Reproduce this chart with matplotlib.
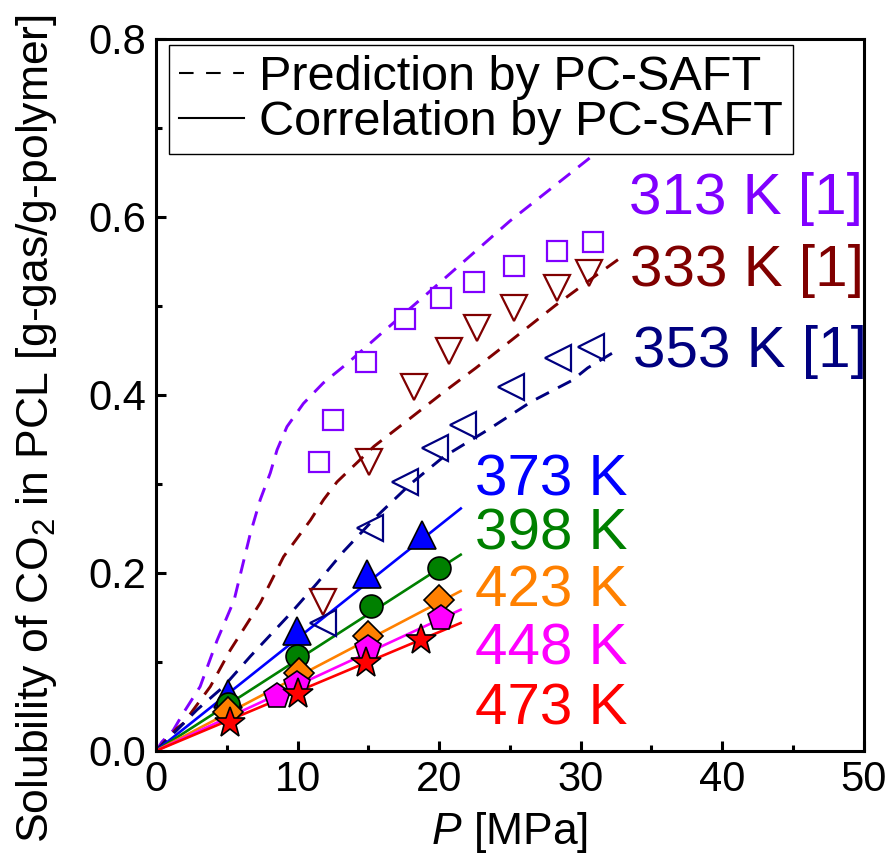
import numpy as np
import matplotlib
matplotlib.use("Agg")
import matplotlib.pyplot as plt
from matplotlib.lines import Line2D

plt.rcParams['font.family'] = ['Liberation Sans', 'DejaVu Sans']
plt.rcParams['mathtext.fontset'] = 'custom'
plt.rcParams['mathtext.rm'] = 'Liberation Sans'
plt.rcParams['mathtext.it'] = 'Liberation Sans:italic'

# --- literature data (open markers) ---
p_313 = [11.5, 12.5, 14.8, 17.55, 20.1, 22.45, 25.3, 28.3, 30.9]
s_313 = [0.324, 0.371, 0.437, 0.485, 0.509, 0.527, 0.544, 0.561, 0.571]
p_333 = [11.8, 15.05, 18.2, 20.7, 22.7, 25.3, 28.3, 30.6]
s_333 = [0.167, 0.324, 0.408, 0.449, 0.475, 0.497, 0.520, 0.537]
p_353 = [11.8, 15.1, 17.55, 19.7, 21.7, 25.1, 28.4, 30.7]
s_353 = [0.143, 0.250, 0.302, 0.340, 0.366, 0.409, 0.441, 0.453]

# --- this work (filled markers) ---
p_373 = [5.05, 9.94, 14.9, 18.8]
s_373 = [0.064, 0.134, 0.199, 0.242]
p_398 = [5.05, 9.94, 15.2, 20.0]
s_398 = [0.053, 0.106, 0.162, 0.205]
p_423 = [5.1, 10.1, 14.95, 20.0]
s_423 = [0.044, 0.087, 0.129, 0.169]
p_448 = [8.5, 9.94, 14.95, 20.1]
s_448 = [0.061, 0.075, 0.115, 0.149]
p_473 = [5.2, 10.0, 14.8, 18.7]
s_473 = [0.031, 0.064, 0.098, 0.124]

# --- PC-SAFT prediction curves (dashed) ---
pp_313 = [0, 0.4, 1.2, 1.9, 3.1, 4.3, 5.5, 6.65, 7.35, 8.06, 8.54, 9.24, 10.4, 11.8, 13.5, 16.0, 19.7, 25.0, 30.5, 32.5]
ps_313 = [0, 0.010, 0.023, 0.042, 0.072, 0.124, 0.169, 0.244, 0.282, 0.312, 0.338, 0.364, 0.390, 0.413, 0.435, 0.470, 0.521, 0.595, 0.664, 0.690]
pp_333 = [0, 1.45, 1.93, 3.82, 5.23, 7.35, 9.0, 10.9, 11.83, 12.78, 15.4, 18.0, 20.5, 22.6, 25.1, 28.2, 31.1, 33.2]
ps_333 = [0, 0.025, 0.031, 0.072, 0.113, 0.166, 0.218, 0.259, 0.282, 0.302, 0.342, 0.374, 0.405, 0.430, 0.461, 0.500, 0.534, 0.558]
pp_353 = [0, 1.7, 2.88, 4.76, 6.65, 9.48, 11.36, 13.25, 15.5, 18.0, 20.3, 23.4, 26.5, 29.4, 30.5, 32.8]
ps_353 = [0, 0.027, 0.046, 0.072, 0.106, 0.154, 0.188, 0.224, 0.262, 0.300, 0.330, 0.360, 0.392, 0.416, 0.430, 0.452]

# --- PC-SAFT correlation lines (solid) ---
pc = [0, 21.6]
cs_373 = [0, 0.273]
cs_398 = [0, 0.221]
cs_423 = [0, 0.180]
cs_448 = [0, 0.159]
cs_473 = [0, 0.144]

labels = ['313 K [1]', '333 K [1]', '353 K [1]', '373 K', '398 K', '423 K', '448 K', '473 K']
label_x = [33.4, 33.5, 33.7, 22.5, 22.5, 22.5, 22.5, 22.5]
label_y = [0.620, 0.539, 0.448, 0.304, 0.243, 0.179, 0.114, 0.046]

c313, c333, c353 = '#8000FF', '#800000', '#000080'
c373, c398, c423, c448, c473 = '#0000FF', '#008000', '#FF8000', '#FF00FF', '#FF0000'
label_colors = [c313, c333, c353, c373, c398, c423, c448, c473]

fig = plt.figure(figsize=(8.93, 8.56), dpi=100)
ax = fig.add_axes([0.175, 0.123, 0.792, 0.832])

dash = (0, (5, 3.5))
ax.plot(pp_313, ps_313, color=c313, lw=2.1, linestyle=dash)
ax.plot(pp_333, ps_333, color=c333, lw=2.1, linestyle=dash)
ax.plot(pp_353, ps_353, color=c353, lw=2.1, linestyle=dash)

for cs, c in zip([cs_373, cs_398, cs_423, cs_448, cs_473], [c373, c398, c423, c448, c473]):
    ax.plot(pc, cs, color=c, lw=1.9, solid_capstyle='butt')

ax.plot(p_313, s_313, 's', ms=14, mfc='white', mec=c313, mew=1.6, ls='none')
ax.plot(p_333, s_333, 'v', ms=19, mfc='none', mec=c333, mew=1.6, ls='none')
ax.plot(p_353, s_353, '<', ms=19, mfc='none', mec=c353, mew=1.6, ls='none')

ax.plot(p_373, s_373, '^', ms=20, mfc=c373, mec='black', mew=1.2, ls='none')
ax.plot(p_398, s_398, 'o', ms=16.5, mfc=c398, mec='black', mew=1.2, ls='none')
ax.plot(p_423, s_423, 'D', ms=15, mfc=c423, mec='black', mew=1.2, ls='none')
ax.plot(p_448, s_448, 'p', ms=19, mfc=c448, mec='black', mew=1.2, ls='none')
ax.plot(p_473, s_473, '*', ms=23, mfc=c473, mec='black', mew=1.2, ls='none')

for t, x, y, c in zip(labels, label_x, label_y, label_colors):
    ax.text(x, y, t, color=c, fontsize=42, ha='left', va='center')

ax.set_xlim(0, 50)
ax.set_ylim(0, 0.8)
ax.set_xticks(np.arange(0, 51, 10))
ax.set_xticks(np.arange(5, 50, 10), minor=True)
ax.set_yticks(np.arange(0, 0.81, 0.2))
ax.set_yticks(np.arange(0.1, 0.8, 0.2), minor=True)
ax.set_yticklabels(['0.0', '0.2', '0.4', '0.6', '0.8'])
ax.tick_params(which='both', direction='in', labelsize=30, width=2.2, pad=7)
ax.tick_params(which='major', length=7)
ax.tick_params(which='minor', length=4)
for sp in ax.spines.values():
    sp.set_linewidth(2.2)

ax.set_xlabel('$P$ [MPa]', fontsize=32, labelpad=7)
ax.set_ylabel('Solubility of CO$_2$ in PCL [g-gas/g-polymer]', fontsize=32)
ax.yaxis.set_label_coords(-0.138, 0.452)

handles = [Line2D([], [], color='black', lw=1.5, linestyle=(0, (7, 6))),
           Line2D([], [], color='black', lw=1.5)]
leg = ax.legend(handles, ['Prediction by PC-SAFT', 'Correlation by PC-SAFT'],
                loc='upper left', bbox_to_anchor=(0.018, 0.991), fontsize=35,
                frameon=True, fancybox=False, edgecolor='black', framealpha=1,
                handlelength=1.35, handletextpad=0.3, borderpad=0.2, labelspacing=0.0,
                borderaxespad=0)
leg.get_frame().set_linewidth(1)

fig.savefig('out.png', dpi=100)
